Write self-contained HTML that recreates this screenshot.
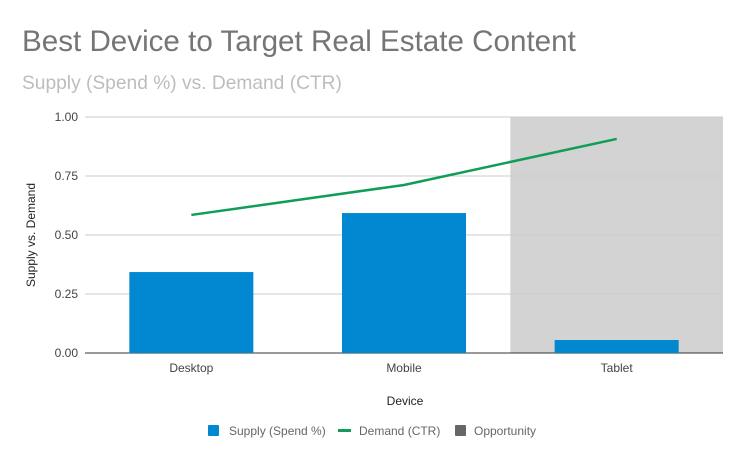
<!DOCTYPE html>
<html><head><meta charset="utf-8"><style>
body{margin:0;background:#fff;font-family:"Liberation Sans",sans-serif}
svg text{font-family:"Liberation Sans",sans-serif}
</style></head><body>
<svg id="chart" width="746" height="461" xmlns="http://www.w3.org/2000/svg">
<rect width="746" height="461" fill="#fff"/>
<text x="22" y="51" font-size="29.6" fill="#757575">Best Device to Target Real Estate Content</text>
<text x="22" y="89" font-size="19.2" fill="#bdbdbd">Supply (Spend %) vs. Demand (CTR)</text>
<g id="plot"></g>
<text x="405" y="405" font-size="12" fill="#222" text-anchor="middle">Device</text>
<text transform="translate(35,235) rotate(-90)" font-size="12" fill="#222" text-anchor="middle">Supply vs. Demand</text>
<g>
<rect x="208" y="425" width="11" height="11" rx="1" fill="#0288d1"/>
<text x="229" y="435" font-size="12" fill="#666">Supply (Spend %)</text>
<rect x="338" y="429" width="13" height="3" fill="#0f9d58"/>
<text x="359" y="435" font-size="12" fill="#666">Demand (CTR)</text>
<rect x="455" y="425" width="11" height="11" rx="1" fill="#666"/>
<text x="474" y="435" font-size="12" fill="#666">Opportunity</text>
</g>
</svg>
<script>
const categories = ["Desktop", "Mobile", "Tablet"];
const supply = [0.343, 0.593, 0.055];
const demand = [0.585, 0.712, 0.907];
const opportunity = [0, 0, 1];
const yTicks = [0, 0.25, 0.5, 0.75, 1];
const yTickLabels = ["0.00", "0.25", "0.50", "0.75", "1.00"];

const NS = "http://www.w3.org/2000/svg";
const g = document.getElementById("plot");
const L = 85, R = 723, T = 117, B = 353;
const bw = (R - L) / categories.length;
const x = i => L + bw * (i + 0.5);
const y = v => B - v * (B - T);
function mk(tag, attrs) { const e = document.createElementNS(NS, tag); for (const k in attrs) e.setAttribute(k, attrs[k]); g.appendChild(e); return e; }

opportunity.forEach((v, i) => {
  if (!v) return;
  const r = mk("rect", { x: L + bw * i, y: y(v), width: bw, height: B - y(v), fill: "#d3d3d3" });
  
  
});
yTicks.forEach((t, i) => {
  const l = mk("line", { x1: L, x2: R, y1: y(t), y2: y(t), stroke: i === 0 ? "#333" : "#ccc", "stroke-width": 1 });
  
  
  const tx = mk("text", { x: L - 7, y: y(t) + 4, "font-size": 12, fill: "#444", "text-anchor": "end" });
  tx.textContent = yTickLabels[i];
  
  
});
supply.forEach((v, i) => {
  const w = 124;
  const r = mk("rect", { x: x(i) - w / 2, y: y(v), width: w, height: B - y(v), fill: "#0288d1" });
  
  
  const tx = mk("text", { x: x(i), y: 372, "font-size": 12, fill: "#444", "text-anchor": "middle" });
  tx.textContent = categories[i];
  
  
});
const p = mk("polyline", { points: demand.map((v, i) => x(i) + "," + y(v)).join(" "), fill: "none", stroke: "#0f9d58", "stroke-width": 2.5 });


</script>
</body></html>
